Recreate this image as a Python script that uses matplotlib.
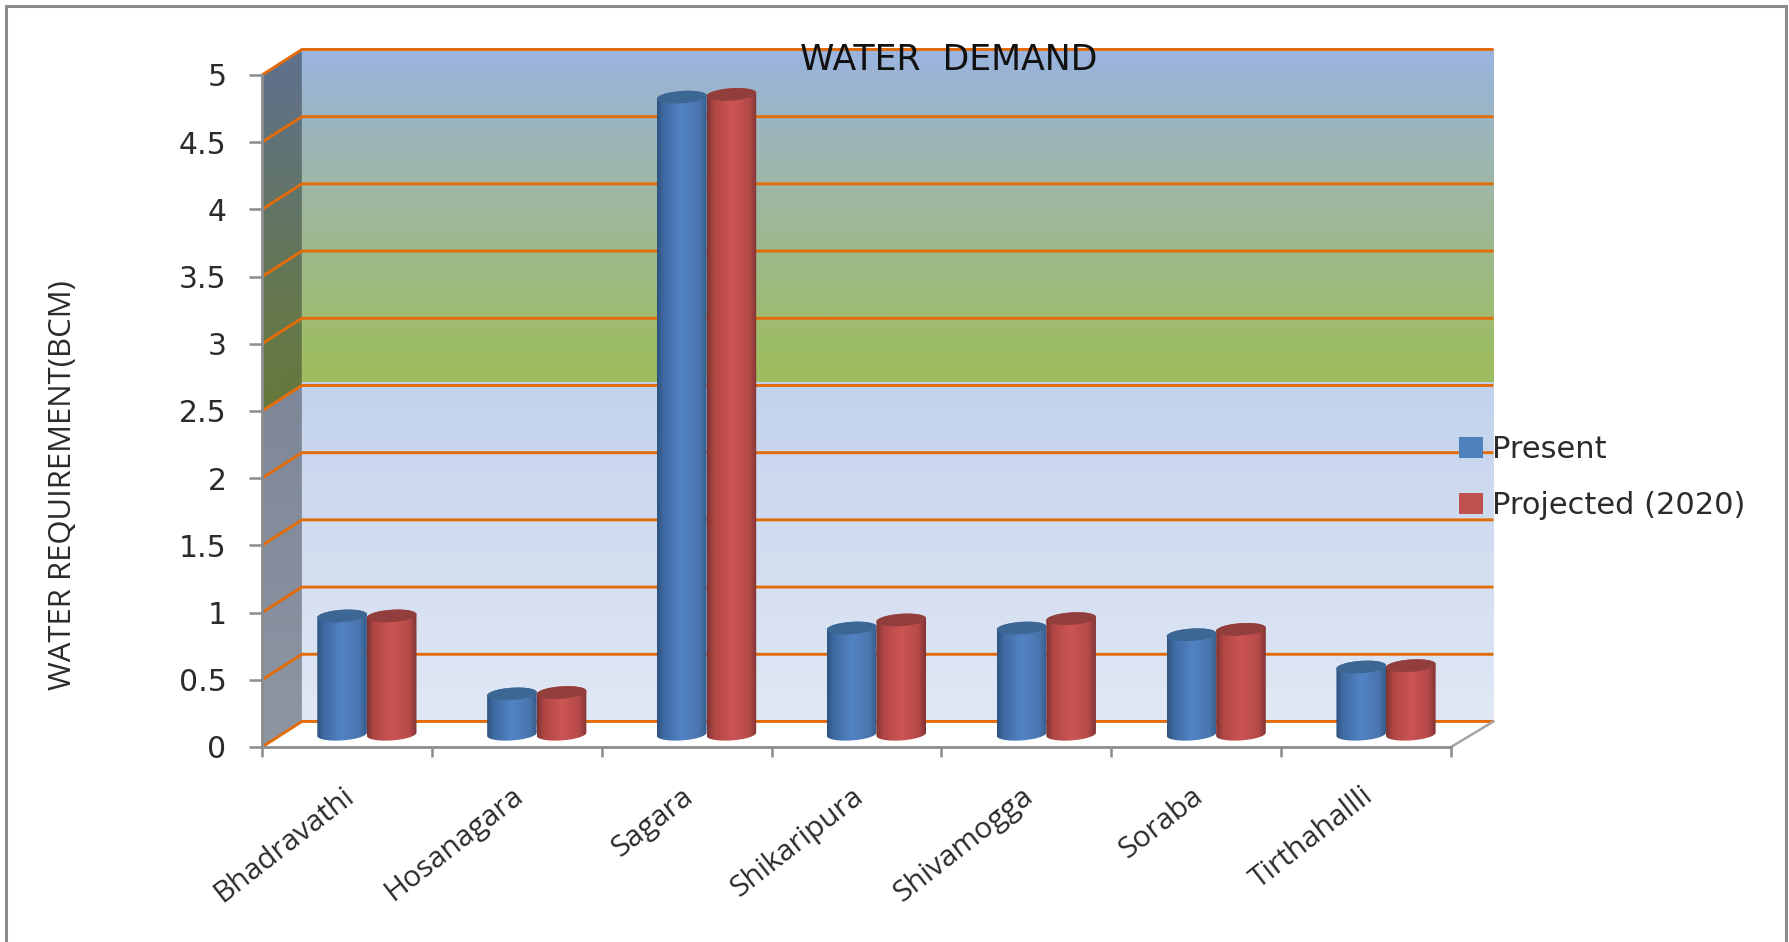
import numpy as np
import matplotlib
matplotlib.use("Agg")
import matplotlib.pyplot as plt
from matplotlib.colors import LinearSegmentedColormap
from matplotlib.patches import Polygon, Rectangle
from matplotlib.transforms import ScaledTranslation

# ---------- data ----------
categories = ["Bhadravathi", "Hosanagara", "Sagara", "Shikaripura",
              "Shivamogga", "Soraba", "Tirthahallli"]
present = [0.88, 0.30, 4.74, 0.79, 0.79, 0.74, 0.50]
projected = [0.88, 0.31, 4.76, 0.85, 0.86, 0.78, 0.51]
y_ticks = [0, 0.5, 1, 1.5, 2, 2.5, 3, 3.5, 4, 4.5, 5]
y_tick_labels = ["0", "0.5", "1", "1.5", "2", "2.5", "3", "3.5", "4", "4.5", "5"]
series_names = ["Present", "Projected (2020)"]
title_text = "WATER  DEMAND"
ylabel_text = "WATER REQUIREMENT(BCM)"

# ---------- geometry / style ----------
W, H = 1789, 942
DPI = 100
L, R, T, B = 262, 1451, 75, 747
DX, DY = 0.235, 0.19           # depth of the 3-D box, in data units
DX_R = 0.25                    # depth at the right-hand end of the box
BAR_W = 0.292
ELL_B = 0.046                  # ellipse semi-minor, y data units
ELL_S = 0.012                  # rise of the ellipse at its right end
ORANGE = "#E36C0A"
GREY = "#8C8C8C"
TXT = "#2B2B2B"

plt.rcParams["font.family"] = ["DejaVu Sans"]
fig = plt.figure(figsize=(W / DPI, H / DPI), dpi=DPI, facecolor="white")
ax = fig.add_axes([L / W, 1 - B / H, (R - L) / W, (B - T) / H])
ax.patch.set_visible(False)
ax.set_autoscale_on(False)
ax.set_xlim(0, 7)
ax.set_ylim(0, 5)


def gradient(stops, horizontal=False):
    cmap = LinearSegmentedColormap.from_list("g", [(p, c) for p, c in stops])
    arr = cmap(np.linspace(0, 1, 256))
    return arr[None, :, :] if horizontal else arr[:, None, :]


def fill(extent, stops, clip=None, horizontal=False, z=1):
    im = ax.imshow(gradient(stops, horizontal), extent=extent, origin="lower",
                   aspect="auto", interpolation="bilinear", zorder=z)
    im.set_clip_box(fig.bbox)
    if clip is not None:
        im.set_clip_path(Polygon(clip, closed=True, transform=ax.transData,
                                 fc="none", ec="none"))
    else:
        im.set_clip_path(None)
    return im


# back wall: pale blue lower half, blue-to-green upper half
upper_stops = [(0.0, "#9DBD5C"), (0.15, "#9EBC6C"), (0.4, "#9EB98C"),
               (0.62, "#9DB7AA"), (0.82, "#9BB5C6"), (1.0, "#9AB4E0")]
lower_stops = [(0.0, "#E1E8F5"), (1.0, "#C3D2EC")]
split = 2.5 + DY + 0.02
fill([DX, 7 + DX_R, split, 5 + DY], upper_stops)
fill([DX, 7 + DX_R, DY, split], lower_stops)

# side wall
side_up = [(0.0, "#66783A"), (0.3, "#65784F"), (0.65, "#62746E"), (1.0, "#5F7090")]
side_lo = [(0.0, "#8E95A2"), (1.0, "#7E8799")]
fill([0, DX, 2.5, 5 + DY], side_up,
     clip=[(0, 2.5), (DX, 2.5 + DY), (DX, 5 + DY), (0, 5)])
fill([0, DX, 0, 2.5 + DY], side_lo,
     clip=[(0, 0), (DX, DY), (DX, 2.5 + DY), (0, 2.5)])

# gridlines on both walls
for v in y_ticks:
    ax.plot([0, DX, 7 + DX_R], [v, v + DY, v + DY], color=ORANGE, lw=2.1,
            clip_on=False, zorder=2, solid_capstyle="butt", solid_joinstyle="miter")
# floor edge on the right
ax.plot([7, 7 + DX_R], [0, DY], color="#A6A6A6", lw=1.8, clip_on=False, zorder=2)

# ---------- cylinders ----------
blue_side = [(0, "#2E527F"), (0.14, "#3F6BA3"), (0.5, "#5283C4"),
             (0.85, "#4A76AE"), (1, "#365B8A")]
red_side = [(0, "#7C3332"), (0.14, "#B04644"), (0.5, "#CC5554"),
            (0.85, "#B54A48"), (1, "#7F3434")]
blue_top, red_top = "#3C6795", "#923E3D"


def ring(cx, cy, t):
    a = BAR_W / 2
    return (cx + a * np.cos(t), cy + ELL_B * np.sin(t) + ELL_S * np.cos(t))


def cylinder(cx, val, side, top):
    y0 = DY / 2
    y1 = y0 + val
    xb, yb = ring(cx, y0, np.linspace(np.pi, 2 * np.pi, 50))
    xt, yt = ring(cx, y1, np.linspace(0, np.pi, 50))
    outline = list(zip(np.r_[xb, xt], np.r_[yb, yt]))
    a = BAR_W / 2
    fill([cx - a, cx + a, 0, y1 + 0.2], side, clip=outline, horizontal=True, z=4)
    xc_, yc_ = ring(cx, y1, np.linspace(0, 2 * np.pi, 80))
    ax.add_patch(Polygon(list(zip(xc_, yc_)), closed=True, fc=top, ec="none",
                         zorder=4.1, clip_on=False))


xc = np.arange(len(categories)) + 0.5 + DX / 2
blue_x = xc - BAR_W / 2
red_x = xc + BAR_W / 2
bars_a = ax.bar(blue_x, present, BAR_W, bottom=DY / 2, color="#4F81BD",
                label=series_names[0], zorder=3, clip_on=False)
bars_b = ax.bar(red_x, projected, BAR_W, bottom=DY / 2, color="#C0504D",
                label=series_names[1], zorder=3, clip_on=False)
for bar in list(bars_a) + list(bars_b):
    bar.set_visible(False)
for x_, v_ in zip(blue_x, present):
    cylinder(x_, v_, blue_side, blue_top)
for x_, v_ in zip(red_x, projected):
    cylinder(x_, v_, red_side, red_top)

# ---------- axes ----------
for s in ("top", "right"):
    ax.spines[s].set_visible(False)
for s in ("left", "bottom"):
    ax.spines[s].set_color(GREY)
    ax.spines[s].set_linewidth(2.0)
    ax.spines[s].set_zorder(2.5)

ax.set_yticks(y_ticks)
ax.set_yticklabels(y_tick_labels)
ax.tick_params(axis="y", length=9.5, width=1.8, color=GREY, pad=16,
               labelsize=21.5, labelcolor=TXT)
ax.set_xticks(np.arange(0, 8))
ax.set_xticklabels([])
ax.tick_params(axis="x", which="major", length=7, width=1.8, color=GREY)
ax.set_xticks(np.arange(len(categories)) + 0.5, minor=True)
ax.set_xticklabels(categories, minor=True, rotation=38, ha="right",
                   rotation_mode="anchor", fontsize=21.5, color=TXT,
                   family="Open Sans")
ax.tick_params(axis="x", which="minor", length=0, pad=25)
shift = ScaledTranslation(-4 / 72, 0, fig.dpi_scale_trans)
for lab in ax.get_xticklabels(minor=True):
    lab.set_transform(lab.get_transform() + shift)
ax.set_xlim(0, 7)
ax.set_ylim(0, 5)

ax.text(0.5775, 1.0225, title_text, transform=ax.transAxes, ha="center",
        va="center", fontsize=25, color="#111111", zorder=6)
ax.set_ylabel(ylabel_text, fontsize=22.4, color=TXT, family="Open Sans")
ax.yaxis.set_label_coords(-0.155, 0.39)

leg = ax.legend(handles=[bars_a, bars_b], labels=series_names, frameon=False,
                loc="upper left", bbox_to_anchor=(1459 / W, 1 - 435 / H),
                bbox_transform=fig.transFigure, fontsize=22, labelcolor=TXT,
                handlelength=0.8, handleheight=0.66, handletextpad=0.28,
                labelspacing=0.9, borderpad=0, borderaxespad=0)
leg.set_zorder(7)
for h in leg.legend_handles:
    h.set_visible(True)

# outer chart frame
fig.add_artist(Rectangle((5.5 / W, -0.05), (1786 - 5.5) / W, 1.05 - 6.5 / H,
                         transform=fig.transFigure, fc="none", ec=GREY, lw=2.2))

fig.savefig("out.png", dpi=DPI, facecolor="white")
